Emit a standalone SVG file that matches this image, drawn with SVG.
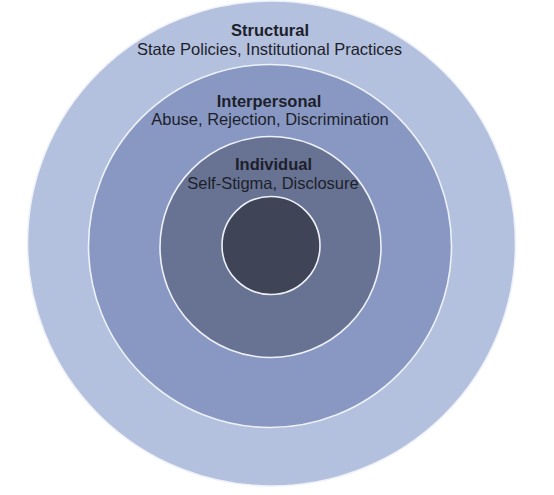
<svg xmlns="http://www.w3.org/2000/svg" width="554" height="495" viewBox="0 0 554 495">
<style>
.ring{stroke:#eef1f8;stroke-width:1.6}
.t{font-family:"Liberation Sans",Arial,sans-serif;font-size:16.5px;fill:#1d1f2b;text-anchor:middle}
.b{font-weight:bold}
</style>
<rect width="554" height="495" fill="#ffffff"/>
<g id="structural">
<ellipse class="ring" cx="271.5" cy="243.5" rx="244" ry="242.5" fill="#b3c0de"/>
<text class="t b" x="270" y="36">Structural</text>
<text class="t" x="269.5" y="55">State Policies, Institutional Practices</text>
</g>
<g id="interpersonal">
<circle class="ring" cx="270" cy="246" r="181.5" fill="#8898c3"/>
<text class="t b" x="269" y="107">Interpersonal</text>
<text class="t" x="270" y="125">Abuse, Rejection, Discrimination</text>
</g>
<g id="individual">
<circle class="ring" cx="270.5" cy="247" r="110.5" fill="#687393"/>
<text class="t b" x="273.5" y="170">Individual</text>
<text class="t" x="273" y="189">Self-Stigma, Disclosure</text>
</g>
<g id="core">
<circle class="ring" cx="271" cy="245.5" r="49" fill="#3f4457"/>
</g>
<g id="connectors"/>
</svg>
